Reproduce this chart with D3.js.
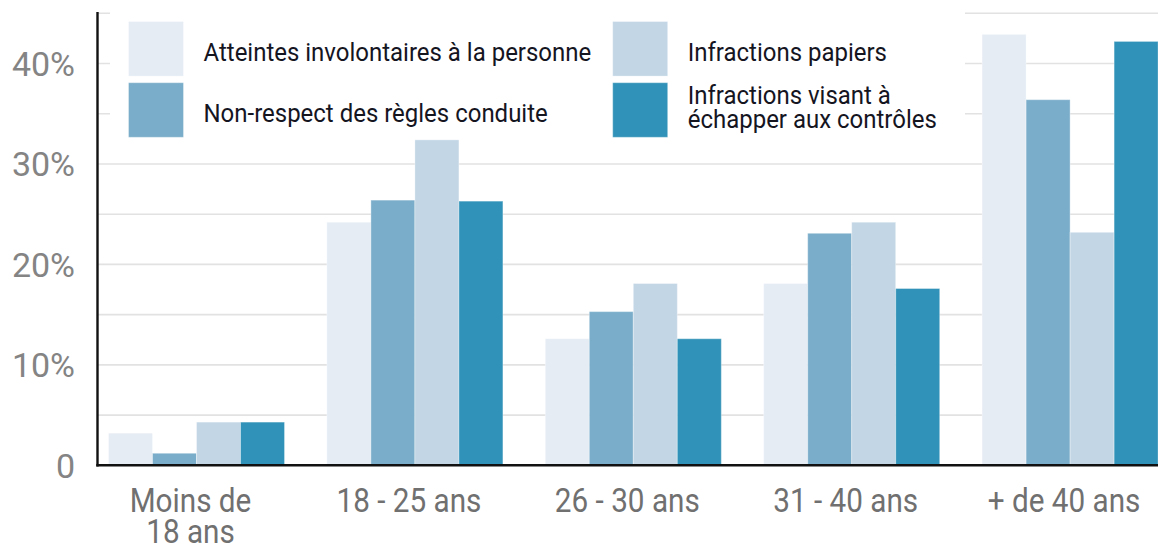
<!DOCTYPE html>
<html>
<head>
<meta charset="utf-8">
<script src="https://cdn.jsdelivr.net/npm/d3@7"></script>
<style>
  body { margin: 0; background: #fff; }
  svg { display: block; font-family: Roboto, 'Noto Sans', sans-serif; }
</style>
</head>
<body>
<div class="canvas"></div>
<script>
// data
const categories = [['Moins de', '18 ans'], ['18 - 25 ans'], ['26 - 30 ans'], ['31 - 40 ans'], ['+ de 40 ans']];
const seriesNames = [
  ['Atteintes involontaires à la personne'],
  ['Non-respect des règles conduite'],
  ['Infractions papiers'],
  ['Infractions visant à', 'échapper aux contrôles']
];
const atteintes = [3.2, 24.2, 12.6, 18.1, 42.9];
const nonRespect = [1.2, 26.4, 15.3, 23.1, 36.4];
const papiers = [4.3, 32.4, 18.1, 24.2, 23.2];
const echapper = [4.3, 26.3, 12.6, 17.6, 42.2];
const yTicks = [0, 10, 20, 30, 40];
const yTickLabels = ['0', '10%', '20%', '30%', '40%'];
const gridTicks = [5, 10, 15, 20, 25, 30, 35, 40, 45];
const colors = ['#e5ecf4', '#7aadca', '#c2d6e5', '#3092b8'];

const series = [atteintes, nonRespect, papiers, echapper];
const dimension = { width: 1158, height: 548 };
const axisX = 97.5;
const baseY = 465.3;

const svg = d3
  .select('.canvas')
  .append('svg')
  .attr('width', dimension.width)
  .attr('height', dimension.height);

// scales
const y = d3.scaleLinear().domain([0, 45]).range([baseY, 13.3]);

const x0 = d3
  .scaleBand()
  .domain(d3.range(categories.length))
  .range([87.3, 1179.3])
  .paddingInner(0.194)
  .paddingOuter(0.097);

const x1 = d3
  .scaleBand()
  .domain(d3.range(series.length))
  .range([0, x0.bandwidth()]);

// gridlines
svg
  .append('g')
  .selectAll('line')
  .data(gridTicks)
  .enter()
  .append('line')
  .attr('x1', axisX)
  .attr('x2', dimension.width)
  .attr('y1', d => y(d))
  .attr('y2', d => y(d))
  .attr('stroke', '#e2e2e2')
  .attr('stroke-width', 1.6);

// legend background hides the grid behind it
svg
  .append('rect')
  .attr('x', 110)
  .attr('y', 0)
  .attr('width', 855)
  .attr('height', 150)
  .attr('fill', '#fff');

// bars
const groups = svg
  .append('g')
  .selectAll('g')
  .data(categories)
  .enter()
  .append('g')
  .attr('transform', (d, i) => `translate(${x0(i)}, 0)`);

groups
  .selectAll('rect')
  .data((d, i) => series.map((s, k) => ({ k, v: s[i] })))
  .enter()
  .append('rect')
  .attr('x', d => x1(d.k))
  .attr('width', x1.bandwidth())
  .attr('y', d => y(d.v))
  .attr('height', d => baseY - y(d.v))
  .attr('fill', d => colors[d.k])
  .attr('stroke', 'rgba(255,255,255,0.35)')
  .attr('stroke-width', 1);

// axes
svg
  .append('line')
  .attr('x1', axisX)
  .attr('x2', axisX)
  .attr('y1', 12)
  .attr('y2', baseY + 1.2)
  .attr('stroke', '#111')
  .attr('stroke-width', 2.4);

svg
  .append('line')
  .attr('x1', axisX - 1.2)
  .attr('x2', dimension.width)
  .attr('y1', baseY)
  .attr('y2', baseY)
  .attr('stroke', '#111')
  .attr('stroke-width', 2.4);

// y labels
svg
  .append('g')
  .selectAll('text')
  .data(yTicks)
  .enter()
  .append('text')
  .attr('x', 75)
  .attr('y', d => y(d) + 12.5)
  .attr('text-anchor', 'end')
  .attr('font-size', 34)
  .attr('fill', '#848484')
  .text((d, i) => yTickLabels[i]);

// x labels
const xLabels = svg
  .append('g')
  .selectAll('text')
  .data(categories)
  .enter()
  .append('text')
  .attr('transform', (d, i) => `translate(${x0(i) + x0.bandwidth() / 2 - 6}, 511.7) scale(0.9, 1)`)
  .attr('text-anchor', 'middle')
  .attr('font-size', 33)
  .attr('fill', '#707070');

xLabels
  .selectAll('tspan')
  .data(d => d)
  .enter()
  .append('tspan')
  .attr('x', 0)
  .attr('y', (d, i) => i * 31)
  .text(d => d);

// legend
const legendPos = [
  { x: 128.5, y: 21.5 },
  { x: 128.5, y: 82.7 },
  { x: 612.7, y: 21.5 },
  { x: 612.7, y: 82.7 }
];

const legend = svg
  .append('g')
  .selectAll('g')
  .data(seriesNames)
  .enter()
  .append('g')
  .attr('transform', (d, i) => `translate(${legendPos[i].x}, ${legendPos[i].y})`);

legend
  .append('rect')
  .attr('width', 55)
  .attr('height', 54.6)
  .attr('fill', (d, i) => colors[i])
  .attr('stroke', 'rgba(255,255,255,0.35)');

legend
  .append('text')
  .attr('transform', d => `translate(75, ${d.length > 1 ? 21.5 : 39}) scale(0.905, 1)`)
  .attr('font-size', 26.5)
  .attr('fill', '#15151f')
  .selectAll('tspan')
  .data(d => d)
  .enter()
  .append('tspan')
  .attr('x', 0)
  .attr('y', (d, i) => i * 24.3)
  .text(d => d);
</script>
</body>
</html>
